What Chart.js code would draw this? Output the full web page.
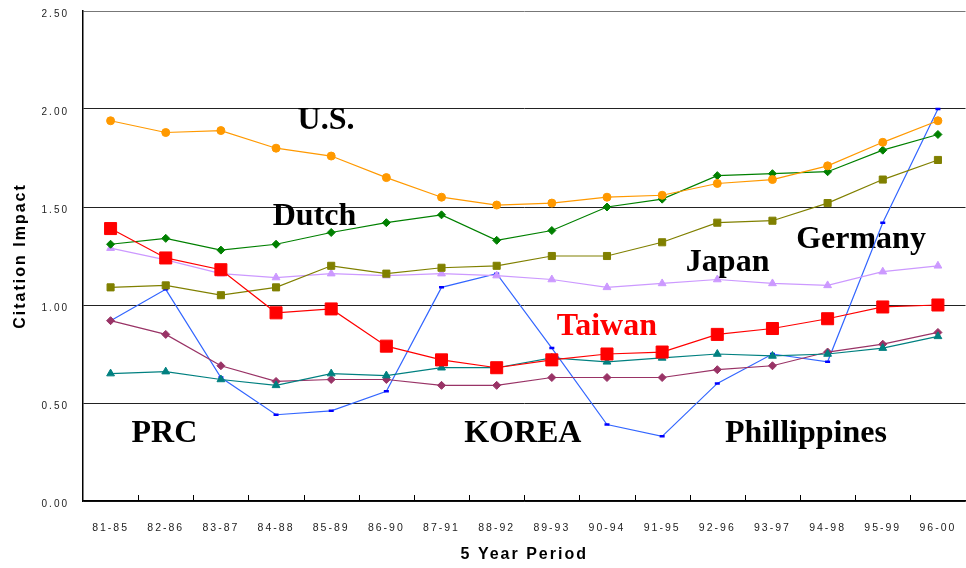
<!DOCTYPE html>
<html>
<head>
<meta charset="utf-8">
<script src="https://cdn.jsdelivr.net/npm/chart.js@4/dist/chart.umd.min.js"></script>
<style>
  html, body { margin: 0; padding: 0; background: #fff; overflow: hidden; }
  canvas { display: block; }
</style>
</head>
<body>
<canvas id="c" width="966" height="568"></canvas>
<script>
// Five-year citation windows
const periods = ['81-85','82-86','83-87','84-88','85-89','86-90','87-91','88-92',
                 '89-93','90-94','91-95','92-96','93-97','94-98','95-99','96-00'];

// Relative citation impact per country
const usImpact          = [1.94,1.88,1.89,1.80,1.76,1.65,1.55,1.51,1.52,1.55,1.56,1.62,1.64,1.71,1.83,1.94];
const dutchImpact       = [1.31,1.34,1.28,1.31,1.37,1.42,1.46,1.33,1.38,1.50,1.54,1.66,1.67,1.68,1.79,1.87];
const germanyImpact     = [1.09,1.10,1.05,1.09,1.20,1.16,1.19,1.20,1.25,1.25,1.32,1.42,1.43,1.52,1.64,1.74];
const japanImpact       = [1.29,1.23,1.16,1.14,1.16,1.15,1.16,1.15,1.13,1.09,1.11,1.13,1.11,1.10,1.17,1.20];
const taiwanImpact      = [1.39,1.24,1.18,0.96,0.98,0.79,0.72,0.68,0.72,0.75,0.76,0.85,0.88,0.93,0.99,1.00];
const prcImpact         = [0.92,1.08,0.63,0.44,0.46,0.56,1.09,1.16,0.78,0.39,0.33,0.60,0.75,0.71,1.42,2.00];
const koreaImpact       = [0.65,0.66,0.62,0.59,0.65,0.64,0.68,0.68,0.73,0.71,0.73,0.75,0.74,0.75,0.78,0.84];
const philippinesImpact = [0.92,0.85,0.69,0.61,0.62,0.62,0.59,0.59,0.63,0.63,0.63,0.67,0.69,0.76,0.80,0.86];

// Value axis ticks
const impactTicks = [0, 0.5, 1.0, 1.5, 2.0, 2.5];

// Country names written inside the plot (anchored in axis units)
const countryLabels = [
  { text: 'U.S.',         color: '#000', at: [3.39, 1.898] },
  { text: 'Dutch',        color: '#000', at: [2.94, 1.408] },
  { text: 'Japan',        color: '#000', at: [10.43, 1.173] },
  { text: 'Germany',      color: '#000', at: [12.43, 1.291] },
  { text: 'Taiwan',       color: '#FF0000', at: [8.09, 0.847] },
  { text: 'PRC',          color: '#000', at: [0.38, 0.301] },
  { text: 'KOREA',        color: '#000', at: [6.41, 0.301] },
  { text: 'Phillippines', color: '#000', at: [11.14, 0.301] }
];

function series(label, data, color, style, radius, extra) {
  return Object.assign({
    label, data,
    borderColor: color,
    backgroundColor: color,
    pointBackgroundColor: color,
    pointBorderColor: color,
    borderWidth: 1.2,
    pointStyle: style,
    pointRadius: radius,
    pointHoverRadius: radius,
    pointBorderWidth: 1,
    tension: 0,
    fill: false
  }, extra || {});
}

// Axes keep exactly the box sizes given here, with no extra label padding
function fixedBox(prop, size) {
  return scale => {
    scale[prop] = size;
    scale.paddingTop = 0;
    scale.paddingBottom = 0;
    scale.paddingLeft = 0;
    scale.paddingRight = 0;
  };
}

// The plot area runs a few pixels past the right edge of the canvas
const overhangPlugin = {
  id: 'overhang',
  afterLayout(chart) {
    const extra = 9;
    const xs = chart.scales.x;
    xs.right += extra;
    xs.width += extra;
    chart.chartArea.right += extra;
    chart.chartArea.width += extra;
    xs.configure();
  }
};

// Spaced-out axis lettering, country names under the lines, inward x ticks
const decorPlugin = {
  id: 'decor',
  beforeDraw(chart) { chart.ctx.letterSpacing = '2px'; },
  beforeDatasetsDraw(chart) {
    const ctx = chart.ctx;
    ctx.letterSpacing = '0px';
    const xs = chart.scales.x, ys = chart.scales.y;
    ctx.save();
    ctx.font = 'bold 32px "Liberation Serif", "Times New Roman", serif';
    ctx.textAlign = 'left';
    ctx.textBaseline = 'alphabetic';
    countryLabels.forEach(l => {
      ctx.fillStyle = l.color;
      ctx.fillText(l.text, xs.getPixelForValue(l.at[0]), ys.getPixelForValue(l.at[1]));
    });
    ctx.restore();
  },
  afterDraw(chart) {
    const ctx = chart.ctx, xs = chart.scales.x, bottom = chart.chartArea.bottom;
    ctx.save();
    ctx.strokeStyle = '#000';
    ctx.lineWidth = 1;
    for (let i = 1; i <= periods.length; i++) {
      const x = Math.round(xs.getPixelForValue(i - 0.5)) + 0.5;
      ctx.beginPath();
      ctx.moveTo(x, bottom);
      ctx.lineTo(x, bottom - 6);
      ctx.stroke();
    }
    ctx.restore();
  }
};

new Chart(document.getElementById('c'), {
  type: 'line',
  data: {
    labels: periods,
    datasets: [
      series('Taiwan', taiwanImpact, '#FF0000', 'rect', 8.5),
      series('Korea', koreaImpact, '#008080', 'triangle', 4.5),
      series('U.S.', usImpact, '#FF9900', 'circle', 4),
      series('Dutch', dutchImpact, '#008000', 'rectRot', 4),
      series('Germany', germanyImpact, '#808000', 'rect', 5),
      series('Japan', japanImpact, '#CC99FF', 'triangle', 4.5),
      series('Philippines', philippinesImpact, '#993366', 'rectRot', 4),
      series('PRC', prcImpact, '#3366FF', 'line', 2.5,
             { pointBorderColor: '#0000FF', pointBackgroundColor: '#0000FF', pointBorderWidth: 2.5 })
    ]
  },
  options: {
    responsive: false,
    animation: false,
    events: [],
    layout: { padding: { top: 11, right: 0, left: 0, bottom: 0 } },
    plugins: {
      legend: { display: false },
      tooltip: { enabled: false }
    },
    scales: {
      x: {
        type: 'category',
        offset: true,
        grid: { display: false },
        border: { display: true, color: '#000', width: 1.5 },
        ticks: {
          color: '#222',
          font: { family: '"Liberation Sans", Arial, sans-serif', size: 10.5 },
          padding: 13,
          maxRotation: 0,
          autoSkip: false
        },
        title: {
          display: true,
          text: '5 Year Period',
          color: '#000',
          font: { family: '"Liberation Sans", Arial, sans-serif', size: 16, weight: 'bold' },
          padding: { top: 0, bottom: 4 }
        },
        afterFit: fixedBox('height', 67)
      },
      y: {
        min: 0,
        max: 2.5,
        afterBuildTicks(scale) { scale.ticks = impactTicks.map(v => ({ value: v })); },
        grid: {
          color: ctx => ctx.tick && ctx.tick.value === 2.5 ? '#777' : '#222',
          lineWidth: 1,
          drawTicks: false
        },
        border: { display: true, color: '#000', width: 1.5 },
        ticks: {
          color: '#222',
          font: { family: '"Liberation Sans", Arial, sans-serif', size: 10 },
          padding: 14,
          labelOffset: 3,
          callback: v => Number(v).toFixed(2)
        },
        title: {
          display: true,
          text: 'Citation Impact',
          color: '#000',
          font: { family: '"Liberation Sans", Arial, sans-serif', size: 16, weight: 'bold' },
          padding: { top: 11, bottom: 0 }
        },
        afterFit: fixedBox('width', 83)
      }
    }
  },
  plugins: [overhangPlugin, decorPlugin]
});
</script>
</body>
</html>
